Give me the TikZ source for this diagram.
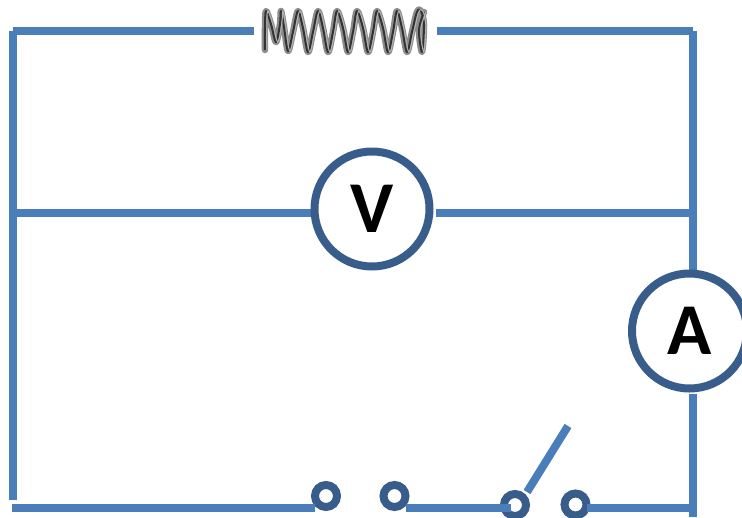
\documentclass[tikz,border=0pt]{standalone}
\usepackage{fontspec}
\setmainfont{Carlito}
\definecolor{wire}{HTML}{4A7EBB}
\definecolor{ring}{HTML}{385D8A}
\tikzset{
  wireline/.style={draw=wire,line width=8pt},
  meter/.style={circle,draw=ring,line width=8pt,fill=white,inner sep=0pt,minimum size=115pt,font=\fontsize{73}{73}\selectfont\bfseries,text=black},
  terminal/.style={circle,draw=ring,line width=8pt,fill=white,inner sep=0pt,minimum size=22pt},
  coilbox/.style={inner sep=0pt,minimum width=183pt,minimum height=50pt},
  coilband/.style={draw=black!45,line width=6.5pt,line join=round,line cap=round},
  coilcore/.style={draw=black!80,line width=2pt,line join=round},
  coilshine/.style={draw=white!70!black,line width=1pt,line join=round},
}
\newcommand{\coilfront}{(265,50)(265,28)(266,11)(271,24)(276,42)(280,24)(281,11)(284,27)(288,51)(293,32)(298,11)(303,28)(308,52)(313,32)(318,11)(323,28)(328,52)(333,32)(337,11)(343,28)(348,52)(353,32)(357,11)(363,28)(368,52)(373,32)(377,11)(383,28)(388,52)(393,32)(397,11)(402,28)(407,52)(412,32)(417,12)(421,11)(424,25)(422,52)(419,30)(424,12)}
\begin{document}
\begin{tikzpicture}[x=1pt,y=-1pt]
\useasboundingbox (0,0) rectangle (742,517);
\clip (0,0) rectangle (742,517);
% corners and free ends
\coordinate (tl) at (12.5,31);
\coordinate (tr) at (693,31);
\coordinate (ml) at (12.5,213);
\coordinate (mr) at (693,213);
\coordinate (bl) at (12.5,500);
\coordinate (bls) at (12,508);
\coordinate (br) at (693,508);
\coordinate (rb) at (693,517);
\coordinate (swtip) at (568,426);
% components
\node[coilbox] (spring) at (345.5,31) {};
\node[terminal] (t1) at (326,496) {};
\node[terminal] (t2) at (394.5,496) {};
\node[terminal] (t3) at (515,505) {};
\node[terminal] (t4) at (575.5,504.5) {};
% wires
\draw[wireline] (12.5,31) -- (bl);
\draw[wireline] (tl) -- (spring.west);
\draw[wireline] (spring.east) -- (tr);
\draw[wireline] (tr) -- (693,272);
\draw[wireline] (ml) -- (315,213);
\draw[wireline] (436,213) -- (mr);
\draw[wireline] (693,394) -- (rb);
\draw[wireline] (bls) -- (315,508);
\draw[wireline] (406,508) -- (511,508);
\draw[wireline] (587,508) -- (br);
\draw[wireline] (527,492) -- (swtip);
% meters
\node[meter] (V) at (372,209) {V};
\node[meter] (A) at (689.5,331) {A};
% the coil
\path[coilband] plot[smooth,tension=0.55] coordinates {\coilfront};
\path[coilcore] plot[smooth,tension=0.55] coordinates {\coilfront};
\begin{scope}[xshift=1.8pt]
\path[coilshine] plot[smooth,tension=0.55] coordinates {\coilfront};
\end{scope}
\end{tikzpicture}
\end{document}
